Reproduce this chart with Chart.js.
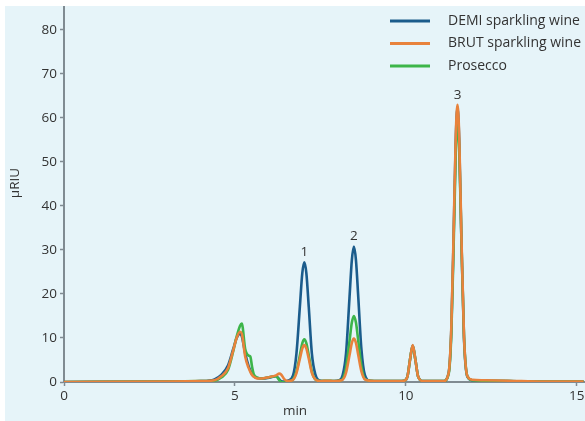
<!DOCTYPE html>
<html>
<head>
<meta charset="utf-8">
<script src="https://cdn.jsdelivr.net/npm/chart.js@4.4.1/dist/chart.umd.min.js"></script>
<style>
  html, body { margin: 0; padding: 0; background: #ffffff; }
  #panel {
    position: absolute; left: 5px; top: 6px; width: 580px; height: 415px;
    background: #e6f4f9;
  }
</style>
</head>
<body>
<div id="panel"><canvas id="myChart"></canvas></div>
<script>
// retention time (min)
const times = [
  0, 3.0, 4.0, 4.4, 4.6, 4.8, 4.95, 5.05, 5.15, 5.2,
  5.3, 5.4, 5.45, 5.5, 5.55, 5.65, 5.8, 6.0, 6.2, 6.3,
  6.35, 6.45, 6.55, 6.7, 6.8, 6.9, 6.97, 7.03, 7.09, 7.16,
  7.25, 7.35, 7.5, 7.7, 7.9, 8.05, 8.15, 8.25, 8.35, 8.42,
  8.48, 8.54, 8.61, 8.7, 8.8, 8.95, 9.2, 9.6, 9.95, 10.05,
  10.12, 10.2, 10.28, 10.36, 10.5, 10.8, 11.1, 11.25, 11.33, 11.4,
  11.46, 11.51, 11.56, 11.62, 11.7, 11.8, 11.95, 12.3, 13.0, 14.0, 15.2
];

// signal (µRIU)
const demiValues = [
  0, 0.1, 0.2, 0.6, 1.6, 3.8, 7.5, 10.0, 11.0, 10.4,
  6.5, 3.6, 2.6, 1.8, 1.3, 0.9, 0.8, 1.0, 1.3, 0.6,
  0.2, 0.1, 0.3, 1.5, 6.5, 17.2, 24.7, 27.2, 24.7, 17.0,
  6.5, 1.8, 0.3, 0.2, 0.2, 0.4, 1.5, 6.5, 19.0, 27.7,
  30.8, 27.7, 19.0, 7.4, 1.6, 0.3, 0.2, 0.2, 0.3, 1.4,
  5.0, 8.3, 5.0, 1.2, 0.2, 0.2, 0.2, 2.0, 12.0, 34.0,
  55.0, 62.5, 55.0, 34.0, 10.0, 1.2, 0.4, 0.3, 0.2, 0.1, 0.1
];
const brutValues = [
  0, 0.1, 0.2, 0.4, 1.3, 3.2, 7.2, 10.0, 11.4, 11.0,
  5.8, 3.2, 2.3, 1.6, 1.2, 0.8, 0.8, 1.1, 1.5, 1.9,
  1.7, 0.6, 0.2, 0.5, 2.0, 5.3, 7.6, 8.4, 7.6, 5.3,
  2.1, 0.6, 0.2, 0.3, 0.2, 0.3, 0.5, 2.1, 6.0, 8.9,
  9.9, 8.9, 6.0, 2.4, 0.6, 0.3, 0.2, 0.2, 0.3, 1.4,
  5.0, 8.4, 5.0, 1.2, 0.2, 0.2, 0.2, 2.0, 12.5, 35.0,
  56.0, 63.0, 56.0, 35.0, 10.5, 1.3, 0.5, 0.4, 0.3, 0.1, 0.1
];
const proseccoValues = [
  0, 0.1, 0.2, 0.3, 1.0, 2.8, 7.0, 10.3, 12.8, 13.3,
  7.5, 6.0, 5.8, 3.5, 1.8, 1.0, 0.8, 1.1, 1.3, 0.4,
  0.0, -0.1, 0.1, 0.6, 2.4, 6.1, 8.8, 9.7, 8.8, 6.1,
  2.4, 0.6, 0.2, 0.3, 0.2, 0.3, 0.7, 3.2, 9.2, 13.5,
  15.0, 13.5, 9.2, 3.6, 0.7, 0.3, 0.2, 0.2, 0.3, 1.4,
  5.0, 8.2, 5.0, 1.2, 0.2, 0.2, 0.2, 1.8, 11.0, 32.0,
  52.0, 59.0, 53.0, 34.0, 10.5, 1.3, 0.4, 0.3, 0.2, 0.1, 0.1
];

// numbered peaks
const peakLabels = ['1', '2', '3'];
const peakTimes = [7.03, 8.48, 11.51];
const peakHeights = [27.2, 30.8, 63.0];

const xTicks = [0, 5, 10, 15];
const yTicks = [0, 10, 20, 30, 40, 50, 60, 70, 80];

const seriesNames = ['DEMI sparkling wine', 'BRUT sparkling wine', 'Prosecco'];
const seriesColors = ['#1b5c8c', '#e8823c', '#3db54a'];

const textColor = '#333333';
const axisColor = '#808b92';
const fontFamily = "'Open Sans', 'Noto Sans', sans-serif";

function toPoints(values) {
  return times.map((t, i) => ({ x: t, y: values[i] }));
}

// legend, peak numbers and axis titles
const annotations = {
  id: 'annotations',
  afterDraw(chart) {
    const ctx = chart.ctx;
    const xs = chart.scales.x;
    const ys = chart.scales.y;
    ctx.save();
    ctx.fillStyle = textColor;
    ctx.font = '13.5px ' + fontFamily;

    // peak numbers
    ctx.textAlign = 'center';
    ctx.textBaseline = 'middle';
    peakLabels.forEach((lbl, i) => {
      ctx.fillText(lbl, xs.getPixelForValue(peakTimes[i]), ys.getPixelForValue(peakHeights[i]) - 10);
    });

    // axis titles
    ctx.fillText('min', 290, 405);
    ctx.save();
    ctx.translate(10, 177);
    ctx.rotate(-Math.PI / 2);
    ctx.fillText('µRIU', 0, 0);
    ctx.restore();

    // legend
    ctx.font = '14px ' + fontFamily;
    ctx.textAlign = 'left';
    seriesNames.forEach((name, i) => {
      const y = 15 + i * 22.5;
      ctx.strokeStyle = seriesColors[i];
      ctx.lineWidth = 3;
      ctx.beginPath();
      ctx.moveTo(385, y);
      ctx.lineTo(425, y);
      ctx.stroke();
      ctx.fillText(name, 443, y);
    });
    ctx.restore();
  }
};

const ctx = document.getElementById('myChart').getContext('2d');

const myChart = new Chart(ctx, {
  type: 'line',
  data: {
    datasets: [
      { label: seriesNames[0], data: toPoints(demiValues), borderColor: seriesColors[0], order: 2 },
      { label: seriesNames[1], data: toPoints(brutValues), borderColor: seriesColors[1], order: 0 },
      { label: seriesNames[2], data: toPoints(proseccoValues), borderColor: seriesColors[2], order: 1 }
    ]
  },
  options: {
    responsive: true,
    maintainAspectRatio: false,
    animation: false,
    layout: { padding: 0 },
    elements: {
      point: { radius: 0 },
      line: { borderWidth: 2.6, cubicInterpolationMode: 'monotone', fill: false }
    },
    plugins: {
      legend: { display: false },
      tooltip: { enabled: false }
    },
    scales: {
      x: {
        type: 'linear',
        min: 0,
        max: 15.24,
        afterBuildTicks: (scale) => { scale.ticks = xTicks.map(v => ({ value: v })); },
        afterFit: (scale) => { scale.height = 39; scale.paddingLeft = 0; scale.paddingRight = 0; },
        ticks: { color: textColor, font: { family: fontFamily, size: 13.5 }, padding: 2, maxRotation: 0 },
        grid: { drawOnChartArea: false, drawTicks: true, tickLength: 4, tickColor: axisColor, tickWidth: 1.5 },
        border: { display: true, color: axisColor, width: 2 }
      },
      y: {
        min: 0,
        max: 85.45,
        afterBuildTicks: (scale) => { scale.ticks = yTicks.map(v => ({ value: v })); },
        afterFit: (scale) => { scale.width = 59; scale.paddingTop = 0; scale.paddingBottom = 0; },
        ticks: { color: textColor, font: { family: fontFamily, size: 13.5 }, padding: 3 },
        grid: { drawOnChartArea: false, drawTicks: true, tickLength: 4, tickColor: axisColor, tickWidth: 1.5 },
        border: { display: true, color: axisColor, width: 2 }
      }
    }
  },
  plugins: [annotations]
});
</script>
</body>
</html>
